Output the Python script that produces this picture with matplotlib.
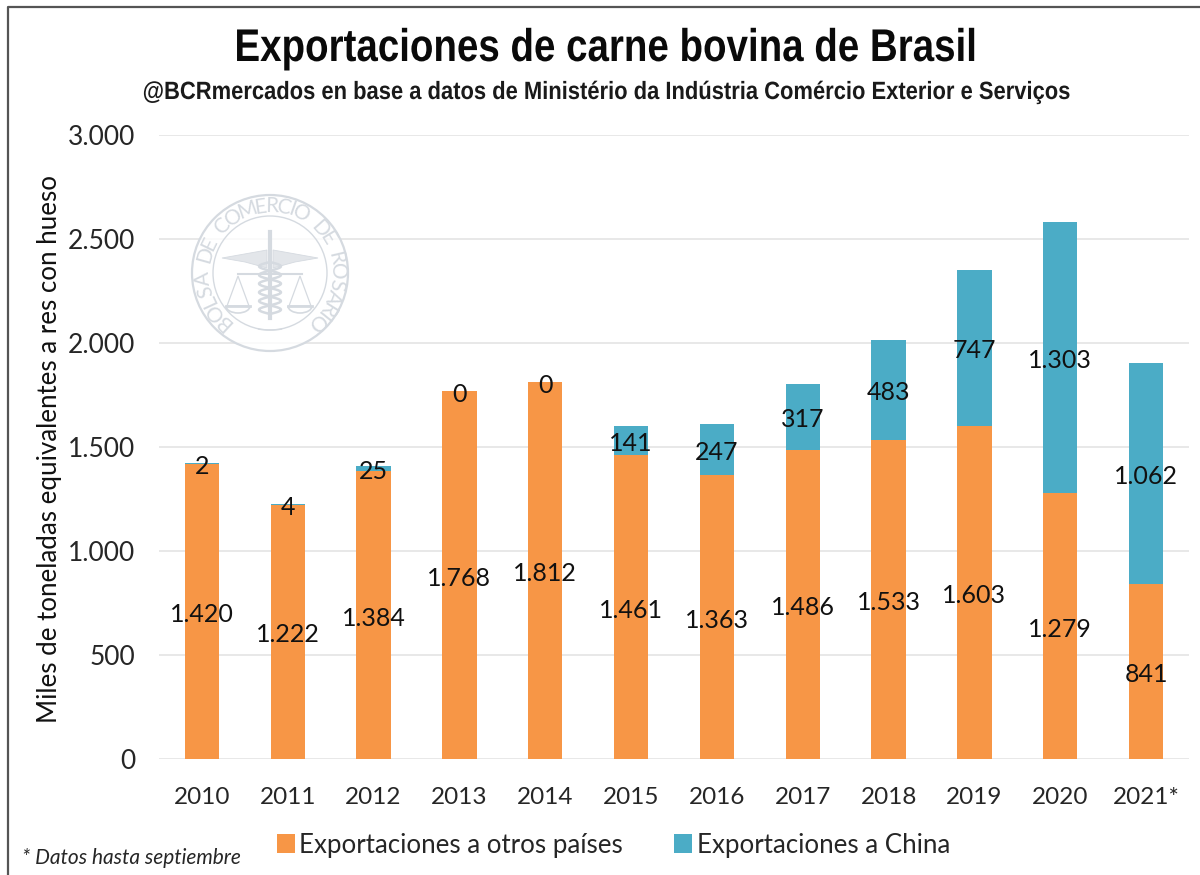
import matplotlib
matplotlib.use("Agg")
import matplotlib.pyplot as plt
from matplotlib.patches import Circle, Polygon, Arc
from matplotlib.lines import Line2D
from matplotlib.patheffects import AbstractPathEffect
from matplotlib.textpath import TextPath
from matplotlib.transforms import Affine2D
import numpy as np

years = ["2010", "2011", "2012", "2013", "2014", "2015", "2016", "2017", "2018", "2019", "2020", "2021*"]
otros = [1420, 1222, 1384, 1768, 1812, 1461, 1363, 1486, 1533, 1603, 1279, 841]
china = [2, 4, 25, 0, 0, 141, 247, 317, 483, 747, 1303, 1062]
yticks = [0, 500, 1000, 1500, 2000, 2500, 3000]

title = "Exportaciones de carne bovina de Brasil"
subtitle = "@BCRmercados en base a datos de Ministério da Indústria Comércio Exterior e Serviços"
ylabel = "Miles de toneladas equivalentes a res con hueso"
note = "* Datos hasta septiembre"
seal_text = "BOLSA DE COMERCIO DE ROSARIO"

W, H = 1200, 875
ORANGE = "#F79646"
BLUE = "#4BACC6"
GRID = "#E6E6E6"
SEAL = "#D5DAE0"
TXT = "#262626"

plt.rcParams["font.family"] = ["Lato", "DejaVu Sans"]


def dots(v):
    return f"{v:,}".replace(",", ".")


class Narrow(AbstractPathEffect):
    # squeeze glyphs sideways, no condensed font installed
    def __init__(self, fx, px):
        super().__init__()
        self.fx = fx
        self.px = px

    def draw_path(self, renderer, gc, tpath, affine, rgbFace=None):
        a = affine + Affine2D().translate(-self.px, 0).scale(self.fx, 1).translate(self.px, 0)
        renderer.draw_path(gc, tpath, a, rgbFace)


fig = plt.figure(figsize=(W / 100, H / 100), dpi=100)
ax = fig.add_axes([159 / W, 1 - 759 / H, (1189 - 159) / W, (759 - 135) / H])

# overlay in pixel coords, for frame and seal
top = fig.add_axes([0, 0, 1, 1], zorder=5)
top.set_xlim(0, W)
top.set_ylim(H, 0)
top.axis("off")

x = np.arange(len(years))
b1 = ax.bar(x, otros, width=0.4, color=ORANGE, label="Exportaciones a otros países", zorder=3)
b2 = ax.bar(x, china, width=0.4, bottom=otros, color=BLUE, label="Exportaciones a China", zorder=3)
l1 = ax.bar_label(b1, labels=[dots(v) for v in otros], label_type="center", fontsize=18, color="#111111", zorder=5)
l2 = ax.bar_label(b2, labels=[dots(v) for v in china], label_type="center", fontsize=18, color="#111111", zorder=5)
for t in list(l1) + list(l2):
    t.xyann = (0, -2.2)

ax.set_xlim(-0.5, 11.5)
ax.set_ylim(0, 3000)
ax.set_yticks(yticks)
ax.set_yticklabels([dots(v) for v in yticks], fontsize=19, color=TXT)
ax.set_xticks(x)
ax.set_xticklabels(years, fontsize=17.5, color=TXT)
ax.tick_params(axis="both", length=0)
ax.tick_params(axis="y", pad=17)
ax.tick_params(axis="x", pad=20)
ax.grid(axis="y", color=GRID, lw=1.3, zorder=0)
ax.set_axisbelow(True)
for s in ax.spines.values():
    s.set_visible(False)

# seal
cx, cy = 270, 273
top.add_patch(Circle((cx, cy), 78, fc=(1, 1, 1, 0.8), ec=SEAL, lw=1.6))
top.add_patch(Circle((cx, cy), 57, fill=False, ec=SEAL, lw=1.0))
widths = [TextPath((0, 0), c if c != " " else "n", size=15, prop="Lato").get_extents().width + 1.5 for c in seal_text]
pos = np.cumsum(widths) - np.array(widths) / 2
angles = -137 + 274 * (pos - pos[0]) / (pos[-1] - pos[0])
for ch, a in zip(seal_text, angles):
    px = cx + 67 * np.sin(np.radians(a))
    py = cy - 67 * np.cos(np.radians(a))
    top.text(px, py, ch, rotation=-a, rotation_mode="anchor", ha="center", va="center",
             fontsize=15, color=SEAL, family="Lato")
top.add_line(Line2D([cx, cx], [232, 318], color=SEAL, lw=3))
top.add_patch(Polygon([(cx - 3, 250), (222, 258), (245, 262), (cx - 3, 268)], fc="#E3E6EA", ec=SEAL, lw=0.6))
top.add_patch(Polygon([(cx + 3, 250), (318, 258), (295, 262), (cx + 3, 268)], fc="#E3E6EA", ec=SEAL, lw=0.6))
top.add_line(Line2D([238, 302], [274, 274], color=SEAL, lw=1.5))
for sx in (238, 300):
    top.add_patch(Polygon([(sx, 276), (sx - 11, 306), (sx + 11, 306)], fill=False, ec=SEAL, lw=0.9))
    top.add_patch(Arc((sx, 306), 24, 14, theta1=0, theta2=180, ec=SEAL, lw=1.2))
    top.add_line(Line2D([sx - 12, sx + 12], [306, 306], color=SEAL, lw=2))
s = np.linspace(0, 1, 80)
for ph in (0, np.pi):
    top.plot(cx + 11 * np.sin(s * 6 * np.pi + ph), 262 + s * 52, color=SEAL, lw=1.8)
top.add_patch(Arc((cx, 322), 50, 16, theta1=30, theta2=150, ec=SEAL, lw=1.0))

# frame on left and top
top.add_line(Line2D([8, 8, W], [H, 7, 7], color="#555555", lw=1.6))

fig.text(606 / W, 1 - 49 / H, title, family="Liberation Sans", weight="bold", fontsize=33, color="#0A0A0A",
         ha="center", va="center", path_effects=[Narrow(0.84, 606)])
fig.text(607 / W, 1 - 92 / H, subtitle, family="Liberation Sans", weight="bold", fontsize=18, color="#1A1A1A",
         ha="center", va="center", path_effects=[Narrow(0.878, 607)])
fig.text(50 / W, 1 - 449 / H, ylabel, rotation=90, fontsize=18.6, color="#111111", ha="center", va="center")
fig.text(22 / W, 1 - 858 / H, note, style="italic", fontsize=15, color=TXT, ha="left", va="center")

fig.legend(handles=[b1, b2], loc="center left", bbox_to_anchor=(277 / W, 1 - 845 / H), ncol=2, frameon=False,
           fontsize=18.6, labelcolor=TXT, handlelength=0.7, handleheight=0.7, handletextpad=0.17,
           columnspacing=1.98, borderpad=0, borderaxespad=0)

fig.savefig("out.png", dpi=100)
